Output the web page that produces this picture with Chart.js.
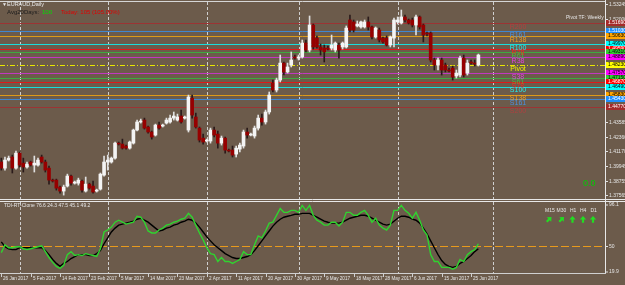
<!DOCTYPE html>
<html><head><meta charset="utf-8">
<script src="https://cdn.jsdelivr.net/npm/chart.js@4.4.1/dist/chart.umd.min.js"></script>
<style>
html,body{margin:0;padding:0;background:#6c5b4b;}
#wrap{position:relative;width:625px;height:285px;overflow:hidden;background:#6c5b4b;}
#c1{position:absolute;left:0;top:0;}
#c2{position:absolute;left:0;top:200px;}
</style></head><body>
<div id="wrap"><canvas id="c1" width="625" height="200"></canvas><canvas id="c2" width="625" height="85"></canvas></div>
<script>
// ---------- DATA ----------
const opens = [1.4030,1.3980,1.4046,1.4071,1.3980,1.4103,1.4021,1.3989,1.4030,1.4005,
1.4005,1.4071,1.4030,1.3980,1.3882,1.3882,1.3825,1.3792,1.3833,1.3915,
1.3857,1.3857,1.3874,1.3792,1.3849,1.3833,1.3792,1.3808,1.3923,1.4030,
1.4030,1.4062,1.4185,1.4177,1.4161,1.4144,1.4185,1.4292,1.4358,1.4374,
1.4317,1.4276,1.4251,1.4333,1.4325,1.4349,1.4358,1.4390,1.4374,1.4407,
1.4390,1.4292,1.4554,1.4399,1.4308,1.4226,1.4202,1.4202,1.4292,1.4259,
1.4185,1.4226,1.4128,1.4128,1.4095,1.4136,1.4161,1.4276,1.4251,1.4243,
1.4308,1.4390,1.4358,1.4440,1.4677,1.4620,1.4702,1.4841,1.4768,1.4825,
1.4891,1.4882,1.4891,1.5005,1.4948,1.5153,1.5046,1.4973,1.4964,1.4964,
1.4964,1.4948,1.4989,1.4973,1.4973,1.5194,1.5178,1.5145,1.5137,1.5137,
1.5178,1.5137,1.5055,1.5112,1.5046,1.5046,1.4989,1.5046,1.5178,1.5169,
1.5219,1.5194,1.5194,1.5153,1.5219,1.5153,1.5087,1.5087,1.4866,1.4825,
1.4866,1.4825,1.4784,1.4800,1.4735,1.4743,1.4882,1.4759,1.4850,1.4841,
1.4825];
const highs = [1.4062,1.4071,1.4079,1.4087,1.4120,1.4112,1.4062,1.4030,1.4038,1.4079,
1.4062,1.4087,1.4046,1.3997,1.3890,1.3890,1.3833,1.3841,1.3931,1.3923,
1.3874,1.3898,1.3882,1.3907,1.3857,1.3874,1.3808,1.3940,1.4079,1.4087,
1.4071,1.4194,1.4194,1.4218,1.4169,1.4202,1.4300,1.4374,1.4382,1.4390,
1.4325,1.4284,1.4341,1.4358,1.4341,1.4390,1.4415,1.4440,1.4423,1.4456,
1.4407,1.4579,1.4579,1.4431,1.4317,1.4259,1.4218,1.4308,1.4317,1.4284,
1.4243,1.4235,1.4136,1.4161,1.4161,1.4185,1.4292,1.4308,1.4267,1.4325,
1.4415,1.4423,1.4456,1.4604,1.4702,1.4718,1.4907,1.4850,1.4841,1.4932,
1.4907,1.4907,1.5030,1.5030,1.5227,1.5161,1.5063,1.4997,1.4989,1.4981,
1.5071,1.5014,1.5005,1.5014,1.5145,1.5235,1.5194,1.5186,1.5186,1.5194,
1.5219,1.5145,1.5137,1.5128,1.5055,1.5063,1.5063,1.5210,1.5219,1.5276,
1.5235,1.5202,1.5210,1.5235,1.5227,1.5161,1.5096,1.5096,1.4882,1.4882,
1.4882,1.4841,1.4800,1.4817,1.4784,1.4899,1.4907,1.4866,1.4866,1.4866,
1.4915];
const lows = [1.3964,1.3964,1.4038,1.3940,1.3972,1.3989,1.3948,1.3980,1.3997,1.3948,
1.3997,1.4021,1.3948,1.3849,1.3866,1.3800,1.3775,1.3759,1.3825,1.3841,
1.3849,1.3841,1.3784,1.3784,1.3808,1.3775,1.3784,1.3800,1.3915,1.3964,
1.4021,1.4054,1.4169,1.4136,1.4136,1.4136,1.4177,1.4284,1.4349,1.4300,
1.4267,1.4218,1.4243,1.4300,1.4317,1.4341,1.4349,1.4374,1.4366,1.4349,
1.4382,1.4276,1.4390,1.4308,1.4194,1.4177,1.4194,1.4185,1.4235,1.4144,
1.4169,1.4103,1.4112,1.4071,1.4071,1.4112,1.4144,1.4226,1.4243,1.4226,
1.4292,1.4333,1.4341,1.4423,1.4604,1.4604,1.4686,1.4743,1.4759,1.4809,
1.4874,1.4866,1.4882,1.4932,1.4932,1.4956,1.4964,1.4907,1.4850,1.4948,
1.4948,1.4932,1.4882,1.4956,1.4964,1.5096,1.5096,1.5137,1.5128,1.5128,
1.5112,1.5038,1.5046,1.5014,1.5005,1.4981,1.4973,1.4973,1.5161,1.5161,
1.5178,1.5161,1.5137,1.5071,1.5120,1.5014,1.5063,1.4850,1.4784,1.4784,
1.4743,1.4768,1.4768,1.4702,1.4718,1.4727,1.4727,1.4743,1.4833,1.4817,
1.4817];
const closes = [1.3980,1.4046,1.4062,1.3980,1.4103,1.4005,1.3989,1.4013,1.4005,1.4021,
1.4046,1.4030,1.3964,1.3882,1.3874,1.3816,1.3792,1.3825,1.3915,1.3857,
1.3866,1.3882,1.3800,1.3849,1.3816,1.3784,1.3800,1.3931,1.4030,1.4046,
1.4062,1.4185,1.4177,1.4144,1.4144,1.4194,1.4292,1.4358,1.4366,1.4308,
1.4276,1.4235,1.4333,1.4308,1.4333,1.4374,1.4390,1.4407,1.4399,1.4358,
1.4399,1.4563,1.4415,1.4317,1.4210,1.4194,1.4210,1.4292,1.4251,1.4185,
1.4226,1.4128,1.4120,1.4087,1.4144,1.4169,1.4276,1.4251,1.4259,1.4308,
1.4390,1.4358,1.4440,1.4579,1.4620,1.4702,1.4841,1.4768,1.4809,1.4866,
1.4882,1.4891,1.5005,1.4948,1.5153,1.4973,1.4973,1.4948,1.4932,1.4956,
1.4989,1.5005,1.4948,1.5005,1.5128,1.5112,1.5112,1.5161,1.5178,1.5178,
1.5137,1.5055,1.5128,1.5030,1.5014,1.4989,1.5055,1.5194,1.5194,1.5219,
1.5194,1.5169,1.5153,1.5219,1.5137,1.5071,1.5079,1.4866,1.4825,1.4866,
1.4784,1.4784,1.4776,1.4727,1.4759,1.4882,1.4743,1.4841,1.4841,1.4833,
1.4907];

const tdiFast = [42.4,51.1,47.8,47.8,48.9,48.9,46.7,45.7,46.7,47.8,
48.9,50.0,43.5,37.0,31.6,27.2,25.0,28.3,40.2,43.5,
39.2,40.2,39.2,41.3,40.2,39.2,38.1,46.7,65.2,67.4,
70.6,76.0,78.2,76.0,73.9,75.0,76.0,82.6,81.5,76.0,
66.3,64.1,64.1,67.4,69.5,72.8,73.9,76.0,77.1,79.3,
80.4,85.8,81.5,72.8,64.1,56.5,47.8,41.3,40.2,32.6,
37.0,32.6,32.6,30.5,32.6,34.8,43.5,40.2,40.2,51.1,
60.9,58.7,66.3,75.0,76.0,83.6,91.2,86.9,86.9,89.1,
89.1,86.9,94.5,89.1,94.5,83.6,78.2,76.0,72.8,72.8,
76.0,76.0,71.7,76.0,86.9,86.9,83.6,83.6,86.9,89.1,
83.6,76.0,80.4,72.8,69.5,67.4,72.8,89.1,89.1,94.5,
89.1,85.8,80.4,86.9,78.2,67.4,61.9,40.2,32.6,32.6,
26.1,26.1,26.1,24.0,26.1,34.8,32.6,40.2,43.5,45.7,
52.2];
const tdiSignal = [54.3,48.9,46.7,45.7,45.7,47.8,47.8,47.8,47.8,47.8,
47.8,47.8,44.6,40.2,34.8,30.5,27.2,30.5,32.6,35.9,
38.1,40.2,40.2,40.2,39.2,39.2,41.3,44.6,52.2,58.7,
65.2,69.5,72.8,73.9,75.0,76.0,77.1,79.3,80.4,78.2,
76.0,72.8,69.5,66.3,67.4,69.5,70.6,72.8,73.9,76.0,
77.1,79.3,78.2,75.0,70.6,65.2,59.8,55.4,51.1,47.8,
44.6,41.3,39.2,37.0,35.9,35.9,37.0,38.1,40.2,44.6,
50.0,55.4,60.9,66.3,71.7,76.0,79.3,81.5,82.6,83.6,
84.7,84.7,85.8,85.8,85.8,83.6,81.5,79.3,77.1,76.0,
75.0,75.0,75.0,76.0,78.2,80.4,81.5,82.6,83.6,83.6,
82.6,80.4,78.2,76.0,73.9,72.8,73.9,77.1,80.4,82.6,
82.6,81.5,79.3,78.2,75.0,69.5,63.0,55.4,47.8,40.2,
33.7,29.4,27.2,26.1,27.2,30.5,32.6,35.9,39.2,43.5,
46.7];
const tdiLevel = 50;

const levelNames  = ['R200','R161','R138','R100','R78','R61','R38','Pivot','S38','S61','S78','S100','S138','S161','S200'];
const levelValues = [1.51690,1.51030,1.50630,1.49970,1.49590,1.49310,1.48890,1.48230,1.47570,1.47150,1.46870,1.46490,1.45830,1.45430,1.44770];

const priceTicks = [1.53245,1.52000,1.43585,1.42360,1.41170,1.39945,1.38755,1.37565];
const tdiTicks = [96.1, 50, 19.9];
const dateLabels = ['26 Jan 2017','5 Feb 2017','14 Feb 2017','23 Feb 2017','5 Mar 2017','14 Mar 2017','23 Mar 2017','2 Apr 2017','11 Apr 2017','20 Apr 2017','30 Apr 2017','9 May 2017','18 May 2017','28 May 2017','6 Jun 2017','15 Jun 2017','25 Jun 2017'];
const dateLabelBars = [0,8,16,24,32,40,48,56,64,72,80,88,96,104,112,120,128];
const monthStartBars = [5,29,56,81,108,134];
const mtfFrames = ['M15','M30','H1','H4','D1'];
const mtfDirs = ['upright','upright','up','up','up'];
const tdiHeader = 'TDI-RT-Clone 76.6 24.3 47.5 45.1 49.2';
const avgDays = '100';
const todayText = 'Today: 105 (105.00%)';
const spreadValue = '0.0';

// ---------- STYLE ----------
const BG = '#6c5b4b';
const FONT = '"Liberation Sans", Arial, sans-serif';
const levelBoxColors  = ['#a52a2a','#1e90ff','#ffa500','#00ffff','#ff0000','#32cd32','#ff00ff','#ffff00','#ff00ff','#32cd32','#ff0000','#00ffff','#ffa500','#1e90ff','#a52a2a'];
const levelLineColors = ['#9c3434','#3f86d0','#dc9a18','#18dcdc','#e01818','#3fa83f','#c038c0','#e8e800','#c038c0','#3fa83f','#e01818','#18dcdc','#dc9a18','#3f86d0','#9c3434'];
const levelTextColors = ['#b04040','#4a90e0','#f0a020','#20f0f0','#ff2020','#40c040','#e040e0','#f0f000','#e040e0','#40c040','#ff2020','#20f0f0','#f0a020','#4a90e0','#b04040'];
const levelBoxText = ['#fff','#fff','#000','#000','#fff','#000','#000','#000','#000','#000','#fff','#000','#000','#fff','#fff'];
const xScale = {type:'linear', min:-0.354, max:164.5, display:false, offset:false};

function vSeparators(chart, y0, y1){
  const {ctx, scales:{x}} = chart;
  ctx.save();
  ctx.strokeStyle = '#cfcfcf'; ctx.lineWidth = 1; ctx.setLineDash([3,2]);
  monthStartBars.forEach(b => {
    const px = Math.round(x.getPixelForValue(b)) + 0.5;
    ctx.beginPath(); ctx.moveTo(px, y0); ctx.lineTo(px, y1); ctx.stroke();
  });
  ctx.restore();
}

const mainPlugin = {
  id: 'mainDecor',
  beforeDraw(chart){
    const c = chart.ctx; c.save(); c.fillStyle = BG; c.fillRect(0,0,chart.width,chart.height); c.restore();
  },
  beforeDatasetsDraw(chart){
    const {ctx, scales:{y}} = chart;
    vSeparators(chart, 2, 199);
    ctx.save();
    ctx.lineWidth = 1;
    levelValues.forEach((v,k) => {
      const py = Math.round(y.getPixelForValue(v)) + 0.5;
      ctx.strokeStyle = levelLineColors[k];
      ctx.setLineDash(levelNames[k] === 'Pivot' ? [5,2,1,2] : []);
      ctx.beginPath(); ctx.moveTo(0, py); ctx.lineTo(605, py); ctx.stroke();
    });
    ctx.restore();
  },
  afterDraw(chart){
    const {ctx, scales:{y}} = chart;
    ctx.save();
    // level labels
    ctx.font = '7px ' + FONT; ctx.textAlign = 'center'; ctx.textBaseline = 'top';
    levelValues.forEach((v,k) => {
      const py = y.getPixelForValue(v);
      ctx.fillStyle = levelTextColors[k];
      ctx.fillText(levelNames[k], 518, py + 0.5);
    });
    // frame
    ctx.strokeStyle = '#d6d6d6'; ctx.lineWidth = 1;
    ctx.beginPath(); ctx.moveTo(0, 1.5); ctx.lineTo(605, 1.5); ctx.stroke();
    ctx.strokeStyle = '#e8e8e8';
    ctx.beginPath(); ctx.moveTo(605.5, 0); ctx.lineTo(605.5, 200); ctx.stroke();
    ctx.beginPath(); ctx.moveTo(0, 199.5); ctx.lineTo(625, 199.5); ctx.stroke();
    // price ticks
    ctx.font = '5px ' + FONT; ctx.textAlign = 'left'; ctx.textBaseline = 'middle';
    priceTicks.forEach(v => {
      let py = Math.round(y.getPixelForValue(v)) + 0.5;
      py = Math.max(4, Math.min(196, py));
      ctx.strokeStyle = '#e0e0e0';
      ctx.beginPath(); ctx.moveTo(605, py); ctx.lineTo(608, py); ctx.stroke();
      ctx.fillStyle = '#e6e6e6';
      ctx.fillText(v.toFixed(5), 609, py);
    });
    // level boxes on axis
    levelValues.forEach((v,k) => {
      const py = y.getPixelForValue(v);
      ctx.fillStyle = levelBoxColors[k];
      ctx.fillRect(606, Math.round(py) - 3, 19, 6);
      ctx.fillStyle = levelBoxText[k];
      ctx.fillText(v.toFixed(5), 608, Math.round(py));
    });
    // titles
    ctx.textBaseline = 'middle';
    ctx.fillStyle = '#e8e8e8';
    ctx.font = '5px ' + FONT;
    ctx.fillText('\u25BC', 2, 4.5);
    ctx.font = '5.5px ' + FONT;
    ctx.fillText('EURAUD,Daily', 7, 4.5);
    ctx.font = '6px ' + FONT;
    ctx.fillStyle = '#1c1c1c';
    ctx.fillText('Avg20Days:', 7, 12.5);
    ctx.fillStyle = '#00e000';
    ctx.fillText(avgDays, 42, 12.5);
    ctx.fillStyle = '#e00000';
    ctx.fillText(todayText, 61, 12.5);
    ctx.fillStyle = '#e6e6e6';
    ctx.font = '5px ' + FONT;
    ctx.fillText('Pivot TF: Weekly', 566, 17.5);
    ctx.fillStyle = '#00cc00';
    ctx.font = '9px ' + FONT;
    ctx.fillText(spreadValue, 583, 183.5);
    ctx.restore();
  }
};

function drawArrow(ctx, cx, cy, dir){
  ctx.save();
  ctx.translate(cx, cy);
  if (dir === 'upright') ctx.rotate(Math.PI/4);
  ctx.beginPath();
  ctx.moveTo(0, -3.5); ctx.lineTo(3.2, 0); ctx.lineTo(1.1, 0); ctx.lineTo(1.1, 3.2);
  ctx.lineTo(-1.1, 3.2); ctx.lineTo(-1.1, 0); ctx.lineTo(-3.2, 0); ctx.closePath();
  ctx.fill();
  ctx.restore();
}

const subPlugin = {
  id: 'subDecor',
  beforeDraw(chart){
    const c = chart.ctx; c.save(); c.fillStyle = BG; c.fillRect(0,0,chart.width,chart.height); c.restore();
  },
  beforeDatasetsDraw(chart){
    const {ctx, scales:{y}} = chart;
    vSeparators(chart, 2, 73);
    ctx.save();
    ctx.strokeStyle = '#e89a1c'; ctx.lineWidth = 1; ctx.setLineDash([8,3]);
    const py = Math.round(y.getPixelForValue(tdiLevel)) + 0.5;
    ctx.beginPath(); ctx.moveTo(0, py); ctx.lineTo(605, py); ctx.stroke();
    ctx.restore();
  },
  afterDraw(chart){
    const {ctx, scales:{x,y}} = chart;
    ctx.save();
    ctx.strokeStyle = '#e8e8e8'; ctx.lineWidth = 1;
    ctx.beginPath(); ctx.moveTo(0, 1.5); ctx.lineTo(625, 1.5); ctx.stroke();
    ctx.beginPath(); ctx.moveTo(605.5, 0); ctx.lineTo(605.5, 74); ctx.stroke();
    ctx.strokeStyle = '#d0d0d0';
    ctx.beginPath(); ctx.moveTo(0, 73.5); ctx.lineTo(606, 73.5); ctx.stroke();
    // tdi axis
    ctx.font = '5px ' + FONT; ctx.textAlign = 'left'; ctx.textBaseline = 'middle'; ctx.fillStyle = '#e6e6e6';
    tdiTicks.forEach(v => {
      let py = Math.round(y.getPixelForValue(v)) + 0.5;
      py = Math.max(5, Math.min(72, py));
      ctx.strokeStyle = '#e0e0e0';
      ctx.beginPath(); ctx.moveTo(605, py); ctx.lineTo(608, py); ctx.stroke();
      ctx.fillText(String(v), 609, py);
    });
    // dates
    ctx.font = '4.6px ' + FONT;
    dateLabels.forEach((t,k) => {
      const px = Math.round(x.getPixelForValue(dateLabelBars[k])) + 0.5;
      ctx.strokeStyle = '#d0d0d0';
      ctx.beginPath(); ctx.moveTo(px, 74); ctx.lineTo(px, 77); ctx.stroke();
      ctx.fillText(t, px + 1.5, 79);
    });
    // header
    ctx.font = '5px ' + FONT; ctx.fillStyle = '#e6e6e6';
    ctx.fillText(tdiHeader, 4, 6);
    // MTF arrows
    const fx = [545, 556.5, 570, 580, 590.5];
    const ax = [549, 561.5, 572.5, 583, 593];
    mtfFrames.forEach((f,k) => {
      ctx.fillStyle = '#e6e6e6';
      ctx.fillText(f, fx[k], 11);
      ctx.fillStyle = '#22dd22';
      drawArrow(ctx, ax[k], 19.5, mtfDirs[k]);
    });
    ctx.restore();
  }
};

// ---------- CHARTS ----------
const bullBody = '#f4f4f4', bearBody = '#960000';
const bodyColors = opens.map((o,i) => closes[i] >= o ? bullBody : bearBody);
const wickColors = opens.map((o,i) => closes[i] >= o ? '#e0e0e0' : '#2a1a1a');

new Chart(document.getElementById('c1'), {
  type: 'bar',
  data: {
    datasets: [
      { label:'body', data: opens.map((o,i) => ({x:i, y:[o, closes[i]]})), backgroundColor: bodyColors,
        borderWidth: 0, barThickness: 3, minBarLength: 1, grouped: false },
      { label:'wick', data: lows.map((l,i) => ({x:i, y:[l, highs[i]]})), backgroundColor: wickColors,
        borderWidth: 0, barThickness: 1, minBarLength: 1, grouped: false }
    ]
  },
  options: {
    responsive: false, animation: false, events: [],
    layout: { padding: { left:0, right:20, top:0, bottom:1 } },
    plugins: { legend:{display:false}, tooltip:{enabled:false} },
    scales: { x: xScale, y: { type:'linear', min:1.3727, max:1.5358, display:false } }
  },
  plugins: [mainPlugin]
});

new Chart(document.getElementById('c2'), {
  type: 'line',
  data: {
    datasets: [
      { label:'fast', data: tdiFast.map((v,i) => ({x:i, y:v})), borderColor:'#2fd42f', borderWidth:1.4, pointRadius:0, tension:0 },
      { label:'signal', data: tdiSignal.map((v,i) => ({x:i, y:v})), borderColor:'#000000', borderWidth:1.4, pointRadius:0, tension:0 }
    ]
  },
  options: {
    responsive: false, animation: false, events: [],
    layout: { padding: { left:0, right:20, top:4, bottom:12 } },
    plugins: { legend:{display:false}, tooltip:{enabled:false} },
    scales: { x: xScale, y: { type:'linear', min:19.9, max:96.1, display:false } }
  },
  plugins: [subPlugin]
});
</script>
</body></html>
